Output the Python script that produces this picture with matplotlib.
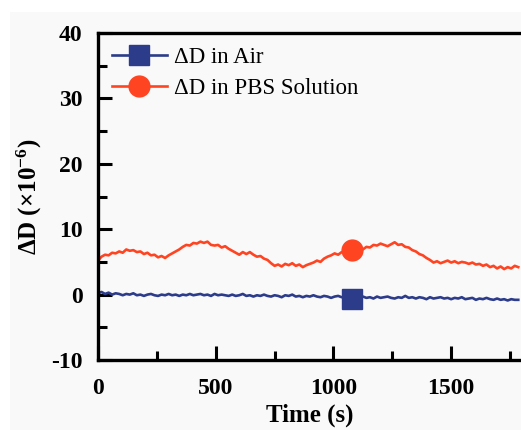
import numpy as np
import matplotlib
matplotlib.use("Agg")
import matplotlib.pyplot as plt
from matplotlib.patches import Rectangle

# ---- data ----
time_s = np.arange(0, 1800, 15)
dd_pbs = [
    5.2, 5.8, 6.1, 6.0, 6.4, 6.3, 6.6, 6.4, 6.9, 6.7,
    6.8, 6.5, 6.6, 6.2, 6.4, 6.0, 6.1, 5.7, 5.9, 5.6,
    6.0, 6.3, 6.6, 6.9, 7.3, 7.6, 7.5, 7.9, 7.8, 8.1,
    7.9, 8.1, 7.6, 7.5, 7.6, 7.2, 7.4, 7.0, 6.7, 6.4,
    6.1, 6.5, 6.2, 6.5, 6.1, 5.8, 5.9, 5.5, 5.3, 4.8,
    4.4, 4.6, 4.3, 4.7, 4.5, 4.8, 4.4, 4.6, 4.2, 4.5,
    4.7, 4.9, 5.2, 5.0, 5.5, 5.8, 6.0, 6.3, 6.1, 6.5,
    6.4, 6.7, 6.8, 6.6, 7.0, 6.9, 7.3, 7.2, 7.6, 7.5,
    7.8, 7.6, 7.4, 7.7, 8.0, 7.6, 7.7, 7.3, 7.2, 6.8,
    6.6, 6.2, 6.0, 5.6, 5.3, 4.9, 5.1, 4.8, 5.0, 5.2,
    4.9, 5.1, 4.8, 5.0, 4.9, 4.7, 4.9, 4.6, 4.7, 4.4,
    4.6, 4.2, 4.4, 4.0, 4.3, 3.9, 4.2, 4.0, 4.4, 4.2,
]
dd_air = [
    0.2, 0.4, 0.1, 0.3, 0.0, 0.2, 0.1, -0.1, 0.1, 0.0,
    0.2, -0.1, 0.0, -0.2, 0.0, 0.1, -0.1, -0.2, 0.0, -0.1,
    0.1, -0.1, 0.0, -0.2, 0.0, -0.1, 0.1, -0.1, 0.0, 0.1,
    -0.1, 0.0, -0.2, 0.1, -0.1, 0.0, -0.1, -0.2, 0.0, -0.2,
    -0.1, 0.1, -0.2, -0.1, -0.3, -0.1, -0.2, 0.0, -0.2, -0.3,
    -0.1, -0.2, -0.4, -0.1, -0.2, 0.0, -0.3, -0.2, -0.4, -0.2,
    -0.3, -0.1, -0.3, -0.4, -0.2, -0.3, -0.5, -0.3, -0.2, -0.4,
    -0.3, -0.5, -0.6, -0.4, -0.5, -0.3, -0.5, -0.4, -0.6, -0.3,
    -0.5, -0.4, -0.3, -0.5, -0.6, -0.4, -0.5, -0.2, -0.5, -0.4,
    -0.6, -0.4, -0.5, -0.7, -0.4, -0.6, -0.5, -0.4, -0.6, -0.5,
    -0.7, -0.5, -0.6, -0.4, -0.7, -0.6, -0.5, -0.8, -0.6, -0.7,
    -0.5, -0.7, -0.8, -0.6, -0.8, -0.7, -0.9, -0.7, -0.8, -0.8,
]
marker_index = 72
labels = ["\u0394D in Air", "\u0394D in PBS Solution"]
xticks = [0, 500, 1000, 1500]
yticks = [-10, 0, 10, 20, 30, 40]

plt.rcParams["font.family"] = ["Liberation Serif", "DejaVu Serif"]
plt.rcParams["mathtext.fontset"] = "custom"
plt.rcParams["mathtext.rm"] = "Liberation Serif:bold"
plt.rcParams["mathtext.bf"] = "Liberation Serif:bold"
plt.rcParams["mathtext.default"] = "bf"
plt.rcParams["axes.unicode_minus"] = False

W, H = 521, 430
fig = plt.figure(figsize=(W / 100, H / 100), dpi=100)
fig.patch.set_facecolor("white")
fig.patches.append(Rectangle((10 / W, 0), 1 - 10 / W, (H - 12) / H,
                             transform=fig.transFigure, facecolor="#f9f9f9",
                             edgecolor="none", zorder=-10))

ax = fig.add_axes([98 / W, (H - 360) / H, (521.8 - 98) / W, (360 - 33) / H])
ax.set_facecolor("#f9f9f9")

blue = "#2c3c8a"
red = "#ff4422"
ax.plot(time_s, dd_air, color=blue, lw=1.9, marker="s", ms=15,
        markevery=[marker_index], label=labels[0])
ax.plot(time_s, dd_pbs, color=red, lw=1.9, marker="o", ms=15,
        markevery=[marker_index], label=labels[1])

ax.set_xlim(0, 1800)
ax.set_ylim(-10, 40)
ax.set_xticks(xticks)
ax.set_yticks(yticks)
ax.set_xticks(np.arange(250, 1800, 500), minor=True)
ax.set_yticks(np.arange(-5, 40, 10), minor=True)

for s in ["left", "bottom", "top"]:
    ax.spines[s].set_linewidth(2.4)
ax.spines["right"].set_visible(False)

ax.tick_params(which="major", direction="in", length=10, width=2.2,
               labelsize=17)
ax.tick_params(which="minor", direction="in", length=6.5, width=2.2)
ax.tick_params(axis="x", pad=13)
ax.tick_params(axis="y", pad=11)
for lab in ax.get_xticklabels() + ax.get_yticklabels():
    lab.set_fontweight("bold")

ax.set_xlabel("Time (s)", fontsize=18, fontweight="bold", labelpad=3)
ax.set_ylabel("\u0394D (\u00d710$^{-6}$)", fontsize=18, fontweight="bold",
              labelpad=5)

leg = ax.legend(loc="upper left", frameon=False, fontsize=16.5,
                handlelength=2.4, numpoints=1, borderaxespad=0.2,
                handletextpad=0.3, labelspacing=0.45,
                bbox_to_anchor=(0.0, 1.0))

fig.savefig("out.png", dpi=100, facecolor=fig.get_facecolor())
